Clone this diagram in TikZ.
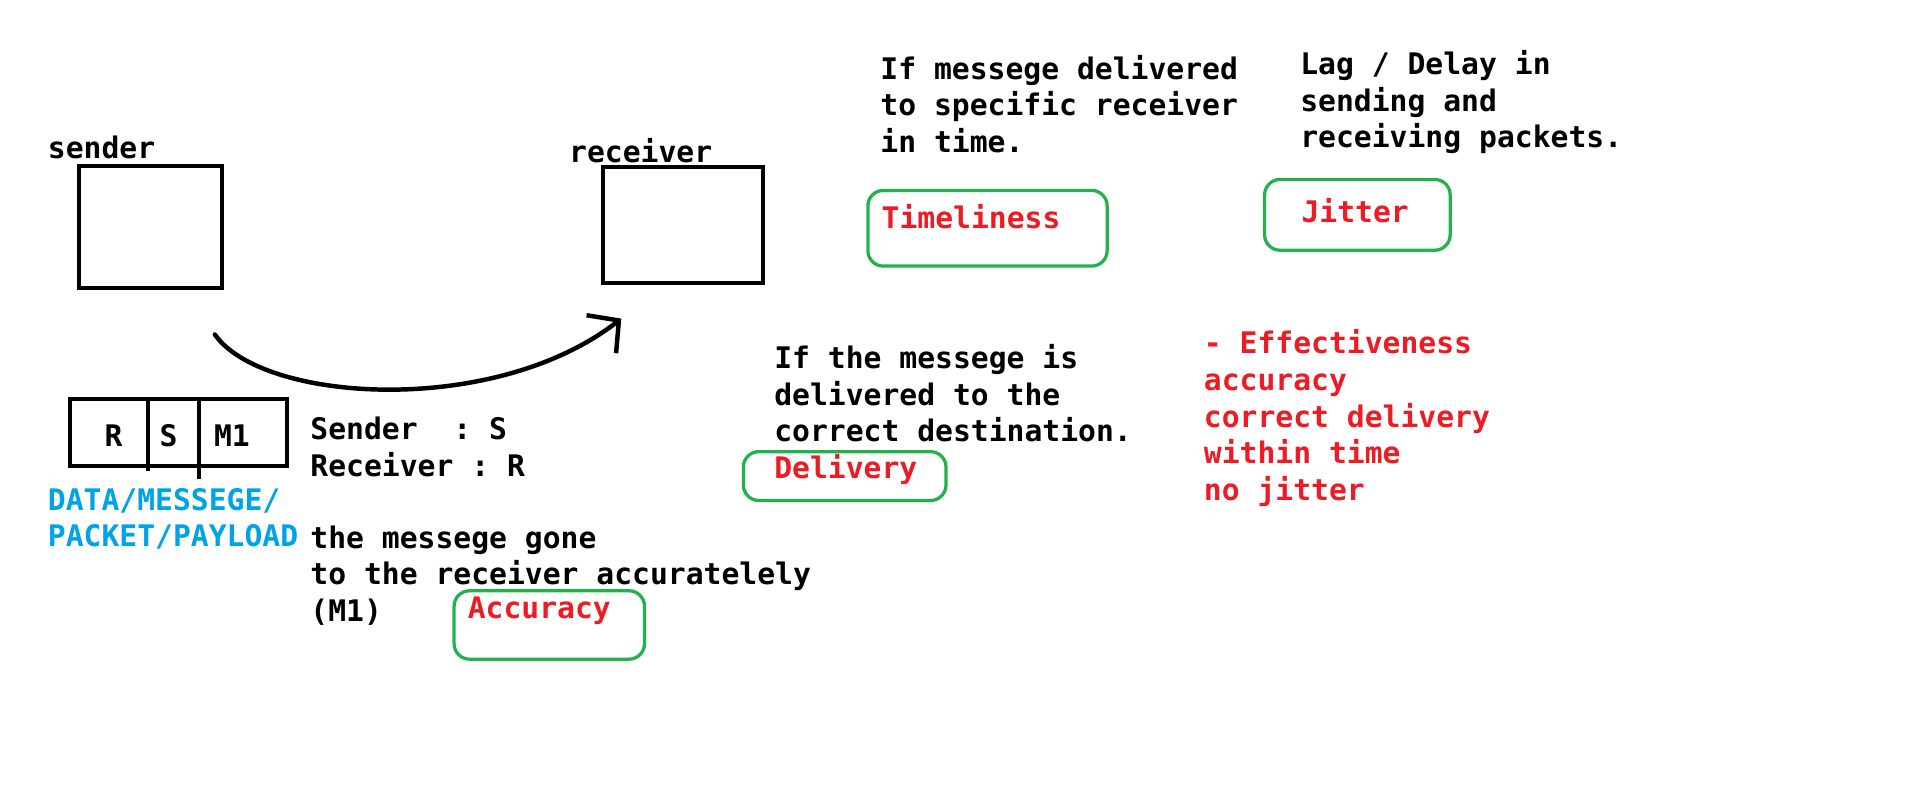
\documentclass[tikz,border=0pt]{standalone}
\usepackage{fontspec}
\setmonofont{DejaVu Sans Mono}
\usetikzlibrary{arrows.meta}
\definecolor{paintred}{RGB}{237,28,36}
\definecolor{paintgreen}{RGB}{34,177,76}
\definecolor{paintblue}{RGB}{0,162,232}
\begin{document}
\begin{tikzpicture}[x=0.025cm, y=-0.025cm,
    txt/.style={anchor=base west, inner sep=0pt, font=\ttfamily\bfseries\fontsize{17.3}{21.3}\selectfont},
    redtxt/.style={txt, text=paintred},
    bluetxt/.style={txt, text=paintblue},
    tag/.style={draw=paintgreen, line width=1.9pt, rounded corners=9pt},
    blk/.style={line width=2.3pt}]
    \useasboundingbox (0,0) rectangle (1568,660.3);

    \coordinate (arrS) at (176,274);
    \coordinate (arrR) at (509,261);

    % sender and receiver
    \node[txt] (sendlbl) at (39,130) {sender};
    \node[txt] (recvlbl) at (466,133) {receiver};
    \draw[blk] (65,136) rectangle (182,236);
    \draw[blk] (494,137) rectangle (625,232);
    \draw[line width=2.6pt, line cap=round, -{Straight Barb[length=13pt,width=28pt]}]
        (arrS) .. controls (215,330) and (405,342) .. (arrR);

    % packet
    \draw[blk] (57,327) rectangle (235,382);
    \draw[blk] (121,327) -- (121,386);
    \draw[blk] (163,327) -- (163,392);
    \foreach \p/\x/\t in {pr/93/R, ps/138/S, pm/190/M1}
        \node[txt, anchor=base] (\p) at (\x,366) {\t};
    \foreach \t [count=\i] in {DATA/MESSEGE/, PACKET/PAYLOAD}
        \node[bluetxt] (data\i) at (39,388+30*\i) {\t};

    \foreach \t [count=\i] in {Sender~~: S, Receiver : R}
        \node[txt] (sr\i) at (254,330+30*\i) {\t};
    \foreach \t [count=\i] in {the messege gone, to the receiver accuratelely, (M1)}
        \node[txt] (acc\i) at (254,419+30*\i) {\t};

    % properties
    \foreach \t [count=\i] in {If the messege is, delivered to the, correct destination.}
        \node[txt] (del\i) at (634,272+30*\i) {\t};
    \foreach \t [count=\i] in {If messege delivered, to specific receiver, in time.}
        \node[txt] (tim\i) at (721,35+30*\i) {\t};
    \foreach \t [count=\i] in {Lag / Delay in, sending and, receiving packets.}
        \node[txt] (jit\i) at (1065,31+30*\i) {\t};
    \foreach \t [count=\i] in {- Effectiveness, accuracy, correct delivery, within time, no jitter}
        \node[redtxt] (eff\i) at (986,260+30*\i) {\t};

    \node[redtxt] (accuracy) at (383,507) {Accuracy};
    \node[redtxt] (delivery) at (634,392) {Delivery};
    \node[redtxt] (timeliness) at (722,187) {Timeliness};
    \node[redtxt] (jitter) at (1066,182) {Jitter};
    \draw[tag] (372,484) rectangle (528,540);
    \draw[tag] (609,370) rectangle (775,410);
    \draw[tag] (711,156) rectangle (907,218);
    \draw[tag] (1036,147) rectangle (1188,205);
\end{tikzpicture}
\end{document}
